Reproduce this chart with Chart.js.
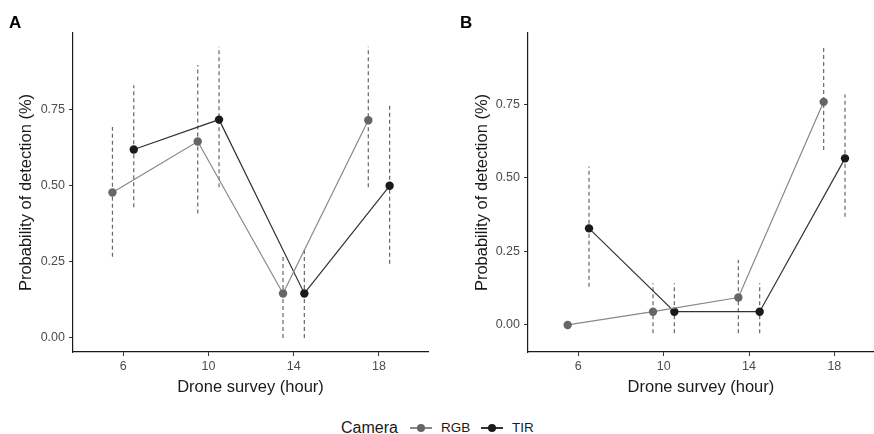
<!DOCTYPE html>
<html>
<head>
<meta charset="utf-8">
<script src="https://cdn.jsdelivr.net/npm/chart.js@4/dist/chart.umd.min.js"></script>
<style>
  body { margin: 0; background: #fff; width: 874px; height: 434px; position: relative; overflow: hidden;
         font-family: "Liberation Sans", Arial, sans-serif; }
  .panel { position: absolute; top: 0; height: 400px; }
  .tag { position: absolute; top: 13px; font-weight: bold; font-size: 17px; color: #000; }
  .lg { position: absolute; color: #1a1a1a; line-height: 1; }
  .key { position: absolute; top: 427px; width: 22px; height: 1.5px; }
  .key i { position: absolute; left: 7px; top: -3.2px; width: 8px; height: 8px; border-radius: 50%; }
</style>
</head>
<body>
<div class="panel" style="left:0; width:437px"><canvas id="chartA" width="437" height="400"></canvas></div>
<!-- panel B is cut off at the right edge like in the original figure -->
<div class="panel" style="left:437px; width:441px"><canvas id="chartB" width="441" height="400"></canvas></div>
<div class="tag" style="left:9px">A</div>
<div class="tag" style="left:460px">B</div>

<span class="lg" style="left:341px; top:420px; font-size:16px">Camera</span>
<span class="key" style="left:410px; background:#888"><i style="background:#666"></i></span>
<span class="lg" style="left:441px; top:421px; font-size:13.5px">RGB</span>
<span class="key" style="left:481px; background:#333"><i style="background:#1a1a1a"></i></span>
<span class="lg" style="left:512px; top:421px; font-size:13.5px">TIR</span>

<script>
'use strict';

// survey hours, RGB plotted 0.5 h left and TIR 0.5 h right (dodge)
const surveyHours = [6, 10, 14, 18];
const dodge = 0.5;
const xTicks = [6, 10, 14, 18];
const yTicks = [0, 0.25, 0.5, 0.75];

// panel A
const rgbA = [0.477, 0.644, 0.146, 0.714];
const rgbALow = [0.266, 0.408, 0.0, 0.494];
const rgbAHigh = [0.692, 0.895, 0.270, 0.955];
const tirA = [0.618, 0.716, 0.146, 0.499];
const tirALow = [0.429, 0.494, 0.0, 0.243];
const tirAHigh = [0.829, 0.955, 0.293, 0.766];

// panel B
const rgbB = [0.0, 0.045, 0.093, 0.758];
const rgbBLow = [0.0, -0.028, -0.028, 0.594];
const rgbBHigh = [0.0, 0.142, 0.221, 0.945];
const tirB = [0.328, 0.045, 0.045, 0.566];
const tirBLow = [0.130, -0.028, -0.028, 0.368];
const tirBHigh = [0.538, 0.142, 0.142, 0.783];

const FONT = '"Liberation Sans", Arial, sans-serif';

function points(values, shift) {
    return values.map((v, i) => ({ x: surveyHours[i] + shift, y: v }));
}

// vertical segments separated by null gaps
function errorBars(low, high, shift) {
    const out = [];
    low.forEach((lo, i) => {
        if (lo === high[i]) return;
        out.push({ x: surveyHours[i] + shift, y: lo });
        out.push({ x: surveyHours[i] + shift, y: high[i] });
        out.push({ x: surveyHours[i] + shift, y: null });
    });
    return out;
}

function seriesLine(values, shift, lineColor, pointColor) {
    return {
        data: points(values, shift),
        borderColor: lineColor,
        borderWidth: 1.2,
        pointRadius: 4.2,
        pointBackgroundColor: pointColor,
        pointBorderColor: pointColor,
        pointBorderWidth: 0,
        tension: 0,
        order: 0
    };
}

function barSet(low, high, shift) {
    return {
        data: errorBars(low, high, shift),
        borderColor: '#666',
        borderWidth: 1.2,
        borderDash: [4, 3],
        pointRadius: 0,
        spanGaps: false,
        order: 2
    };
}

function makePanel(canvasId, d, opt) {
    const ctx = document.getElementById(canvasId).getContext('2d');
    return new Chart(ctx, {
        type: 'line',
        data: {
            datasets: [
                barSet(d.rgbLow, d.rgbHigh, -dodge),
                barSet(d.tirLow, d.tirHigh, dodge),
                seriesLine(d.rgb, -dodge, '#888', '#666'),
                seriesLine(d.tir, dodge, '#333', '#1a1a1a')
            ]
        },
        options: {
            responsive: false,
            animation: false,
            events: [],
            layout: { padding: { left: 0, right: opt.padRight, top: 33, bottom: 0 } },
            plugins: { legend: { display: false }, tooltip: { enabled: false } },
            scales: {
                x: {
                    type: 'linear',
                    min: opt.xMin,
                    max: opt.xMax,
                    afterFit: s => { s.height = 48; },
                    afterBuildTicks: s => { s.ticks = xTicks.map(v => ({ value: v })); },
                    border: { display: true, color: '#1a1a1a', width: 1.2 },
                    grid: { drawOnChartArea: false, drawTicks: true, tickLength: 4, color: '#333' },
                    ticks: { color: '#4d4d4d', padding: 3, font: { family: FONT, size: 12.5 } },
                    title: {
                        display: true, text: 'Drone survey (hour)', color: '#1a1a1a',
                        padding: { top: 0, bottom: 3 }, font: { family: FONT, size: 16.5 }
                    }
                },
                y: {
                    min: opt.yMin,
                    max: opt.yMax,
                    afterFit: s => { s.width = opt.yWidth; },
                    afterBuildTicks: s => { s.ticks = yTicks.map(v => ({ value: v })); },
                    border: { display: true, color: '#1a1a1a', width: 1.2 },
                    grid: { drawOnChartArea: false, drawTicks: true, tickLength: 4, color: '#333' },
                    ticks: {
                        color: '#4d4d4d', padding: 4, font: { family: FONT, size: 12.5 },
                        callback: v => v.toFixed(2)
                    },
                    title: {
                        display: true, text: 'Probability of detection (%)', color: '#1a1a1a',
                        padding: { top: opt.titlePad, bottom: 0 }, font: { family: FONT, size: 16.5 }
                    }
                }
            }
        }
    });
}

makePanel('chartA',
    { rgb: rgbA, rgbLow: rgbALow, rgbHigh: rgbAHigh, tir: tirA, tirLow: tirALow, tirHigh: tirAHigh },
    { padRight: 9, xMin: 3.65, xMax: 20.3, yMin: -0.046, yMax: 1.0, yWidth: 73, titlePad: 17 });

makePanel('chartB',
    { rgb: rgbB, rgbLow: rgbBLow, rgbHigh: rgbBHigh, tir: tirB, tirLow: tirBLow, tirHigh: tirBHigh },
    { padRight: 0, xMin: 3.64, xMax: 19.85, yMin: -0.092, yMax: 0.992, yWidth: 91, titlePad: 36 });
</script>
</body>
</html>
